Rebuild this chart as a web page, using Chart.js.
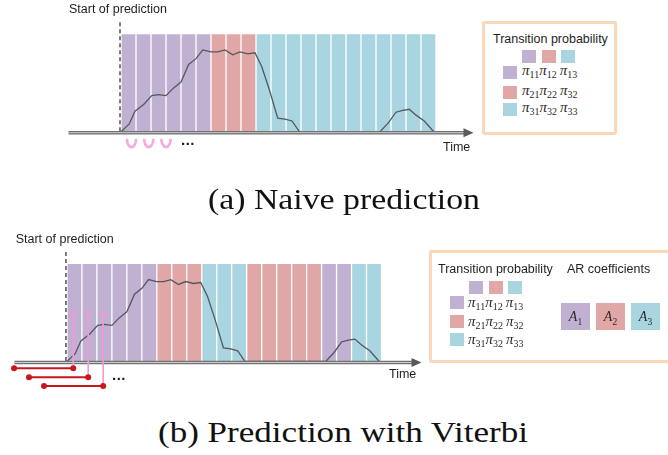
<!DOCTYPE html>
<html>
<head>
<meta charset="utf-8">
<script src="https://cdn.jsdelivr.net/npm/chart.js@4/dist/chart.umd.min.js"></script>
<style>
  html, body { margin: 0; padding: 0; }
  body { width: 668px; height: 455px; position: relative; overflow: hidden; background: #fff;
         font-family: "Liberation Sans", Arial, sans-serif; color: #1e1e1e; }
  .abs { position: absolute; white-space: nowrap; line-height: 1; }
  .lbl { font-size: 12.5px; }
  .dots { font-size: 15px; font-weight: bold; letter-spacing: 0.5px; }
  .cap { font-family: "Liberation Serif", "Times New Roman", serif; font-size: 30px; color: #111; transform-origin: 0 0; }
  .box { position: absolute; box-sizing: border-box; border: 3px solid #FBD6B7; border-radius: 2px; }
  .sw { position: absolute; width: 14px; height: 13px; }
  .math { font-family: "Liberation Serif", "Times New Roman", serif; font-size: 15px; color: #2a2a2a; }
  .math i { font-style: italic; }
  .math sub { font-size: 10px; font-style: normal; vertical-align: -3px; line-height: 0; }
  .coef { position: absolute; width: 29px; height: 27px; display: flex; align-items: center; justify-content: center;
          font-family: "Liberation Serif", "Times New Roman", serif; font-size: 14px; color: #2a2a2a; }
  .coef span { line-height: 1; }
  .coef sub { font-size: 9.5px; vertical-align: -3.5px; line-height: 0; }
  canvas { position: absolute; }
</style>
</head>
<body>

<canvas id="naive" width="480" height="160" style="left:0;top:0"></canvas>
<canvas id="viterbi" width="440" height="170" style="left:0;top:230px"></canvas>

<!-- panel (a) labels -->
<div class="abs lbl" style="left:69px;top:2.6px">Start of prediction</div>
<div class="abs lbl" style="left:443px;top:141.4px">Time</div>
<div class="abs dots" style="left:181px;top:131.5px">...</div>

<div class="box" style="left:482px;top:21px;width:135px;height:114px"></div>
<div class="abs lbl" style="left:493px;top:33.4px">Transition probability</div>
<div id="legA"></div>

<div class="abs cap" id="capA" style="left:208px;top:184px">(a) Naive prediction</div>

<!-- panel (b) labels -->
<div class="abs lbl" style="left:15.7px;top:232.7px">Start of prediction</div>
<div class="abs lbl" style="left:389px;top:368.4px">Time</div>
<div class="abs dots" style="left:112px;top:366.5px">...</div>

<div class="box" style="left:429px;top:250px;width:260px;height:113px"></div>
<div class="abs lbl" style="left:438px;top:263.4px">Transition probability</div>
<div class="abs lbl" style="left:567px;top:263.4px">AR coefficients</div>
<div id="legB"></div>

<div class="abs cap" id="capB" style="left:158px;top:416.5px">(b) Prediction with Viterbi</div>

<script>
// Hidden regime of each time step (1, 2 or 3), one entry per bar
const naiveStates   = [1,1,1,1,1,1, 2,2,2, 3,3,3,3,3,3,3,3,3,3,3,3];
const viterbiStates = [1,1,1,1,1,1, 2,2,2, 3,3,3, 2,2,2,2,2, 1,1, 3,3];

// Observed signal: position in time steps and level (percent of bar height)
const steps  = [0, 0.55, 0.93, 1.51, 2.05, 2.49, 3.0, 3.51, 4.0, 4.51, 5.0, 5.45, 6.0, 6.45, 6.93,
                7.45, 7.93, 8.45, 8.93, 9.38, 9.89, 10.45, 10.93, 11.4, 11.89,
                17.27, 17.82, 18.33, 18.78, 19.22, 19.67, 20.22, 20.85];
const signal = [0, 8, 21, 28, 37, 38, 37, 45, 51, 69, 75, 84, 82, 82, 84,
                79, 82, 80, 81, 67, 43, 14, 13, 11, 0,
                0, 9, 20, 22, 23, 17, 11, 0];

// Regime colours
const stateColors = ['#C0B1D3', '#E0A7A6', '#A8D5E0'];
const stateNames  = ['A', 'A', 'A'];

// Look-back windows used by the Viterbi panel (start step, end step)
const windowStarts = [-3.53, -2.53, -1.53];
const windowEnds   = [0.42, 1.42, 2.42];
const windowTop    = 54;               // level reached by the upward arrows
const loopSteps    = [0.7, 1.85, 3.0]; // self-transition marks in the naive panel

function axisPlugin(extras) {
  return {
    id: 'timeAxis',
    afterDatasetsDraw(chart) {
      const { ctx, chartArea: a, scales: { x, y } } = chart;
      const y0 = y.getPixelForValue(0) + 1;
      ctx.save();
      // start-of-prediction marker
      const xs = x.getPixelForValue(0) - 1;
      ctx.setLineDash([4, 3]);
      ctx.strokeStyle = '#666';
      ctx.lineWidth = 1.7;
      ctx.beginPath(); ctx.moveTo(xs, a.top - 12); ctx.lineTo(xs, y0); ctx.stroke();
      ctx.setLineDash([]);
      // double time axis with arrow
      ctx.strokeStyle = '#727272';
      ctx.lineWidth = 3.4;
      ctx.beginPath(); ctx.moveTo(a.left, y0); ctx.lineTo(a.right - 8, y0); ctx.stroke();
      ctx.strokeStyle = '#d6d6d6';
      ctx.lineWidth = 0.9;
      ctx.beginPath(); ctx.moveTo(a.left, y0); ctx.lineTo(a.right - 8, y0); ctx.stroke();
      ctx.fillStyle = '#5a5a5a';
      ctx.beginPath();
      ctx.moveTo(a.right, y0); ctx.lineTo(a.right - 10, y0 - 4.5); ctx.lineTo(a.right - 10, y0 + 4.5);
      ctx.closePath(); ctx.fill();
      extras(ctx, x, y, y0);
      ctx.restore();
    }
  };
}

function makePanel(id, states, xMax, padding, extras) {
  return new Chart(document.getElementById(id), {
    type: 'bar',
    data: {
      datasets: [
        {
          type: 'line',
          data: steps.map((t, i) => ({ x: t, y: signal[i] })),
          borderColor: '#56565e',
          borderWidth: 1.3,
          pointRadius: 0,
          tension: 0,
          order: 1,
          clip: 4
        },
        {
          type: 'bar',
          data: states.map((s, i) => ({ x: i + 0.5, y: 100 })),
          backgroundColor: states.map(s => stateColors[s - 1]),
          barThickness: 13,
          borderWidth: 0,
          order: 2
        }
      ]
    },
    options: {
      responsive: false,
      animation: false,
      events: [],
      layout: { padding },
      plugins: { legend: { display: false }, tooltip: { enabled: false } },
      scales: {
        x: { type: 'linear', min: -3.5, max: xMax, offset: false, display: false },
        y: { min: 0, max: 100, display: false }
      }
    },
    plugins: [axisPlugin(extras)]
  });
}

makePanel('naive', naiveStates, 23.5, { left: 68.5, top: 34.3, right: 6.5, bottom: 28.3 },
  (ctx, x, y, y0) => {
    ctx.strokeStyle = '#F3ABDC';
    ctx.lineWidth = 2.6;
    loopSteps.forEach(t => {
      const cx = x.getPixelForValue(t);
      ctx.beginPath();
      ctx.ellipse(cx, y0 + 6, 4.6, 8.5, 0, 0, Math.PI);
      ctx.stroke();
    });
  });

makePanel('viterbi', viterbiStates, 23.67, { left: 14.5, top: 34, right: 18.5, bottom: 38.5 },
  (ctx, x, y, y0) => {
    const tipY = y.getPixelForValue(windowTop);
    windowStarts.forEach((t0, k) => {
      const xa = x.getPixelForValue(t0);
      const xb = x.getPixelForValue(windowEnds[k]);
      const yr = y0 + 5.8 + 8.9 * k;
      // upward arrow
      ctx.strokeStyle = '#EE9BD6';
      ctx.fillStyle = '#EE9BD6';
      ctx.lineWidth = 1.6;
      ctx.beginPath(); ctx.moveTo(xb, yr); ctx.lineTo(xb, tipY + 4); ctx.stroke();
      ctx.beginPath();
      ctx.moveTo(xb, tipY); ctx.lineTo(xb - 3.2, tipY + 6.5); ctx.lineTo(xb + 3.2, tipY + 6.5);
      ctx.closePath(); ctx.fill();
      // look-back window
      ctx.strokeStyle = '#C8161F';
      ctx.fillStyle = '#C8161F';
      ctx.lineWidth = 2;
      ctx.beginPath(); ctx.moveTo(xa, yr); ctx.lineTo(xb, yr); ctx.stroke();
      [xa, xb].forEach(px => { ctx.beginPath(); ctx.arc(px, yr, 3, 0, Math.PI * 2); ctx.fill(); });
    });
  });

// Legends
function swatch(parent, left, top, color) {
  const d = document.createElement('div');
  d.className = 'sw';
  d.style.left = left + 'px'; d.style.top = top + 'px'; d.style.background = color;
  parent.appendChild(d);
}
function probRow(parent, left, top, row) {
  const d = document.createElement('div');
  d.className = 'abs math';
  d.style.left = left + 'px'; d.style.top = top + 'px';
  d.innerHTML = `<i>π</i><sub>${row}1</sub><i>π</i><sub>${row}2</sub>&thinsp;<i>π</i><sub>${row === 2 ? '32' : row + '3'}</sub>`;
  parent.appendChild(d);
}
function legend(parent, colX, rowY, colSwX, rowYs, textX, textTops) {
  stateColors.forEach((c, i) => swatch(parent, colX + i * 19.5, rowY, c));
  stateColors.forEach((c, i) => swatch(parent, colSwX, rowYs[i], c));
  [1, 2, 3].forEach((r, i) => probRow(parent, textX, textTops[i], r));
}
const legA = document.getElementById('legA');
legend(legA, 522, 50, 503, [66, 85.5, 103], 522, [63, 82.5, 100]);
const legB = document.getElementById('legB');
legend(legB, 469, 281, 450, [296, 315, 333], 468, [295, 313.5, 331.5]);
stateColors.forEach((c, i) => {
  const d = document.createElement('div');
  d.className = 'coef';
  d.style.left = (561 + i * 35) + 'px'; d.style.top = '303px'; d.style.background = c;
  d.innerHTML = `<span><i>${stateNames[i]}</i><sub>${i + 1}</sub></span>`;
  legB.appendChild(d);
});

// Stretch captions horizontally to their set widths
function fitWidth(id, target) {
  const el = document.getElementById(id);
  const w = el.getBoundingClientRect().width;
  el.style.transform = `scaleX(${target / w})`;
}
fitWidth('capA', 272);
fitWidth('capB', 370);
</script>
</body>
</html>
